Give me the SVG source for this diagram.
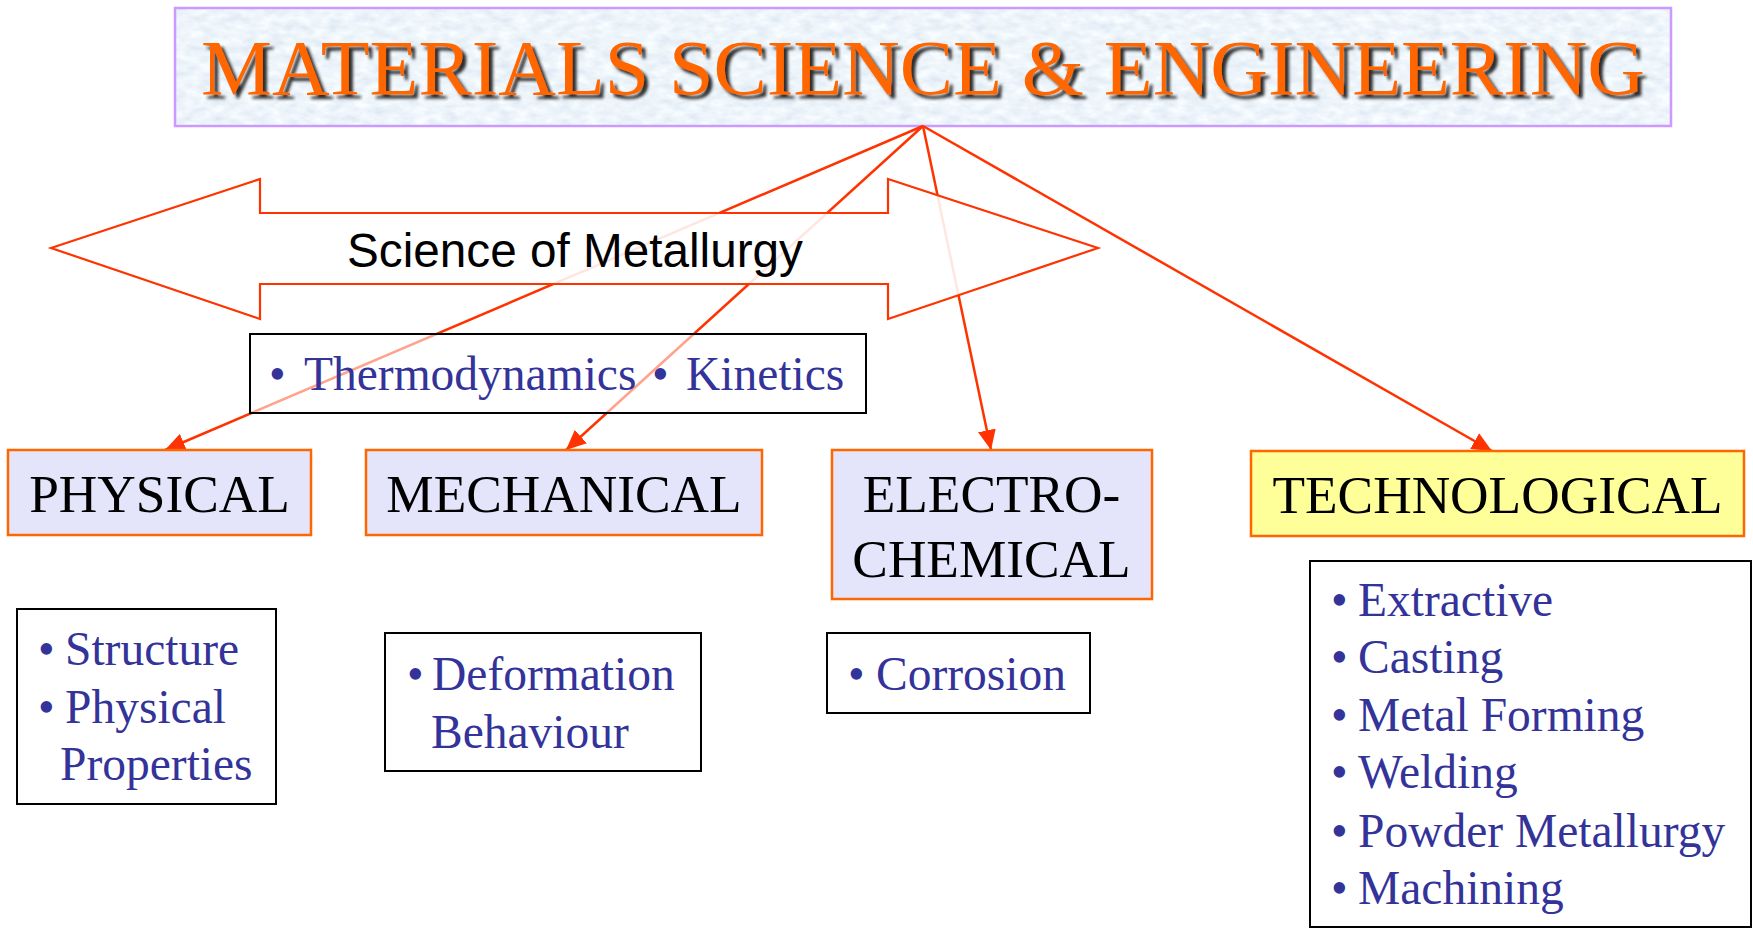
<svg xmlns="http://www.w3.org/2000/svg" width="1753" height="928" viewBox="0 0 1753 928">
  <defs>
    <style>
      .label { font-family: "Liberation Serif", "Times New Roman", serif; font-size: 53.3px; fill: #000; }
      .item { font-family: "Liberation Serif", "Times New Roman", serif; font-size: 47.5px; fill: #333399; }
      .catbox { fill: #e4e4fb; stroke: #ff6600; stroke-width: 2.5; }
      .listbox { fill: #ffffff; stroke: #000; stroke-width: 2; }
      .conn { stroke: #ff3300; stroke-width: 2.5; fill: none; marker-end: url(#head); }
    </style>
    <marker id="head" markerUnits="userSpaceOnUse" markerWidth="22" markerHeight="18" refX="20" refY="9" orient="auto">
      <path d="M0,0 L20,9 L0,18 Z" fill="#ff3300"/>
    </marker>
    <!-- pale blue mottled fill for the title banner -->
    <filter id="marble" x="0" y="0" width="100%" height="100%">
      <feTurbulence type="fractalNoise" baseFrequency="0.07 0.13" numOctaves="3" seed="7" result="n"/>
      <feColorMatrix in="n" type="matrix" values="0.3 0 0 0 0.7  0.26 0 0 0 0.78  0.16 0 0 0 0.88  0 0 0 0 1" result="c"/>
      <feComposite in="c" in2="SourceGraphic" operator="in"/>
    </filter>
    <filter id="shadow" x="-5%" y="-20%" width="110%" height="140%">
      <feGaussianBlur in="SourceAlpha" stdDeviation="1.6"/>
      <feOffset dx="3.5" dy="3.5" result="off"/>
      <feFlood flood-color="#1a1a1a" flood-opacity="0.9"/>
      <feComposite in2="off" operator="in" result="sh"/>
      <feMerge><feMergeNode in="sh"/><feMergeNode in="SourceGraphic"/></feMerge>
    </filter>
  </defs>

  <rect width="1753" height="928" fill="#ffffff"/>

  <!-- title banner -->
  <g id="title">
    <rect x="175" y="8" width="1496" height="118" fill="#d9e7f5" filter="url(#marble)"/>
    <rect x="175" y="8" width="1496" height="118" fill="none" stroke="#cc99ff" stroke-width="2.5"/>
    <text x="201" y="94" textLength="1444" lengthAdjust="spacingAndGlyphs" font-family="'Liberation Serif', 'Times New Roman', serif" font-size="79" fill="#ff6600" filter="url(#shadow)">MATERIALS SCIENCE &amp; ENGINEERING</text>
  </g>

  <!-- connectors from the banner to the four branches -->
  <g id="connectors">
    <line class="conn" x1="923" y1="126" x2="165" y2="450"/>
    <line class="conn" x1="923" y1="126" x2="566" y2="450"/>
    <line class="conn" x1="923" y1="126" x2="991" y2="450"/>
    <line class="conn" x1="923" y1="126" x2="1492" y2="451"/>
  </g>

  <!-- double-headed arrow -->
  <g id="science-of-metallurgy">
    <polygon points="51,248 260,179 260,213 888,213 888,179 1098,248 888,319 888,284 260,284 260,319" fill="#ffffff" fill-opacity="0.88" stroke="#ff3300" stroke-width="2.2"/>
    <text x="347" y="267" font-family="'Liberation Sans', Arial, sans-serif" font-size="47.7" fill="#000">Science of Metallurgy</text>
  </g>

  <g id="thermo-kinetics">
    <rect x="250" y="334" width="616" height="79" fill="#ffffff" fill-opacity="0.55" stroke="#000" stroke-width="2"/>
    <text class="item" y="390"><tspan x="269">•</tspan><tspan x="304">Thermodynamics</tspan><tspan x="652">•</tspan><tspan x="686">Kinetics</tspan></text>
  </g>

  <!-- branch headings -->
  <g id="physical">
    <rect class="catbox" x="8" y="450" width="303" height="85"/>
    <text class="label" x="159.5" y="512" text-anchor="middle">PHYSICAL</text>
  </g>
  <g id="mechanical">
    <rect class="catbox" x="366" y="450" width="396" height="85"/>
    <text class="label" x="564" y="512" text-anchor="middle">MECHANICAL</text>
  </g>
  <g id="electrochemical">
    <rect class="catbox" x="832" y="450" width="320" height="149"/>
    <text class="label" x="991.5" y="512" text-anchor="middle">ELECTRO-</text>
    <text class="label" x="991.5" y="577" text-anchor="middle">CHEMICAL</text>
  </g>
  <g id="technological">
    <rect x="1251" y="451" width="493" height="85" fill="#ffff99" stroke="#ff6600" stroke-width="2.5"/>
    <text class="label" x="1497.5" y="513" text-anchor="middle">TECHNOLOGICAL</text>
  </g>

  <!-- topic lists -->
  <g id="physical-topics">
    <rect class="listbox" x="17" y="609" width="259" height="195"/>
    <text class="item" x="38" y="665">•</text>
    <text class="item" x="65" y="665">Structure</text>
    <text class="item" x="38" y="723">•</text>
    <text class="item" x="65" y="723">Physical</text>
    <text class="item" x="60" y="780">Properties</text>
  </g>
  <g id="mechanical-topics">
    <rect class="listbox" x="385" y="633" width="316" height="138"/>
    <text class="item" x="407" y="690">•</text>
    <text class="item" x="432" y="690">Deformation</text>
    <text class="item" x="431" y="748">Behaviour</text>
  </g>
  <g id="electrochemical-topics">
    <rect class="listbox" x="827" y="633" width="263" height="80"/>
    <text class="item" x="848" y="690">•</text>
    <text class="item" x="876" y="690">Corrosion</text>
  </g>
  <g id="technological-topics">
    <rect class="listbox" x="1310" y="561" width="441" height="366"/>
    <text class="item" x="1331" y="616">•</text><text class="item" x="1358" y="616">Extractive</text>
    <text class="item" x="1331" y="673">•</text><text class="item" x="1358" y="673">Casting</text>
    <text class="item" x="1331" y="731">•</text><text class="item" x="1358" y="731">Metal Forming</text>
    <text class="item" x="1331" y="788">•</text><text class="item" x="1358" y="788">Welding</text>
    <text class="item" x="1331" y="847">•</text><text class="item" x="1358" y="847">Powder Metallurgy</text>
    <text class="item" x="1331" y="904">•</text><text class="item" x="1358" y="904">Machining</text>
  </g>
</svg>
